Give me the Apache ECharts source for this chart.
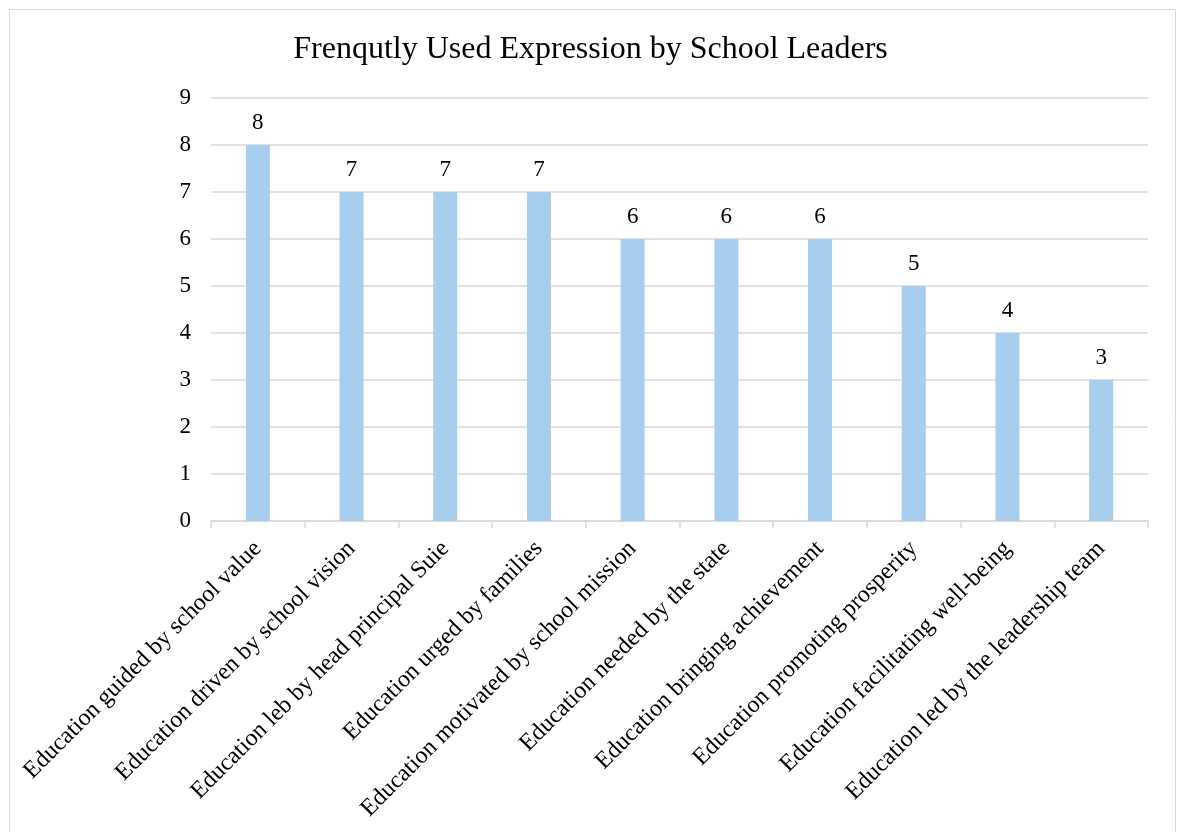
<!DOCTYPE html>
<html>
<head>
<meta charset="utf-8">
<script src="https://cdn.jsdelivr.net/npm/echarts@6/dist/echarts.min.js"></script>
<style>
html, body { margin: 0; padding: 0; background: #fff; }
#main { width: 1181px; height: 832px; }
</style>
</head>
<body>
<div id="main"></div>
<script>
var categories = [
  'Education guided by school value',
  'Education driven by school vision',
  'Education leb by head principal Suie',
  'Education urged by families',
  'Education motivated by school mission',
  'Education needed by the state',
  'Education bringing achievement',
  'Education promoting prosperity',
  'Education facilitating well-being',
  'Education led by the leadership team'
];
var counts = [8, 7, 7, 7, 6, 6, 6, 5, 4, 3];

var font = '"Liberation Serif", "Times New Roman", serif';
var myChart = echarts.init(document.getElementById('main'));

var option = {
  backgroundColor: '#fff',
  animation: false,
  graphic: [{
    type: 'rect',
    shape: { x: 9.5, y: 9.5, width: 1166, height: 840 },
    style: { fill: 'none', stroke: '#d9d9d9', lineWidth: 1 },
    silent: true
  }],
  title: {
    text: 'Frenqutly Used Expression by School Leaders',
    left: 'center',
    top: 29,
    textStyle: { fontFamily: font, fontSize: 32, fontWeight: 'normal', color: '#000' }
  },
  grid: { left: 211, right: 33, top: 98, bottom: 311 },
  xAxis: {
    type: 'category',
    data: categories,
    axisLine: { lineStyle: { color: '#d9d9d9', width: 1.5 } },
    axisTick: { show: true, length: 7, lineStyle: { color: '#d9d9d9', width: 1.5 } },
    axisLabel: {
      interval: 0,
      rotate: 45,
      margin: 24,
      fontFamily: font,
      fontSize: 24,
      color: '#000'
    }
  },
  yAxis: {
    type: 'value',
    min: 0,
    max: 9,
    interval: 1,
    axisLine: { show: false },
    axisTick: { show: false },
    splitLine: { lineStyle: { color: '#d9d9d9', width: 1.5 } },
    axisLabel: { fontFamily: font, fontSize: 23, color: '#000', margin: 20 }
  },
  series: [{
    type: 'bar',
    data: counts,
    barWidth: 24,
    itemStyle: { color: '#a8ceef' },
    label: {
      show: true,
      position: 'top',
      distance: 11,
      fontFamily: font,
      fontSize: 23,
      color: '#000'
    }
  }]
};
myChart.setOption(option);
</script>
</body>
</html>
